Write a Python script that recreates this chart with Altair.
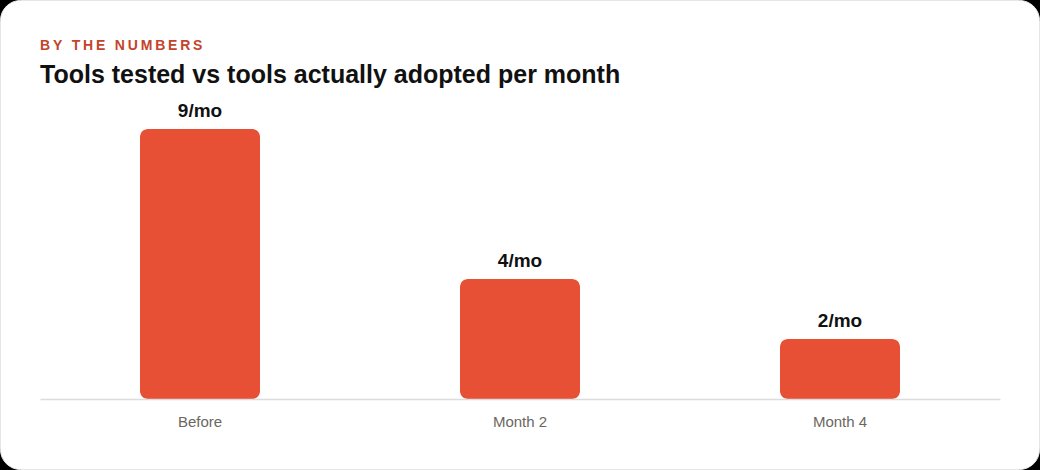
import altair as alt
import pandas as pd

categories = ["Before", "Month 2", "Month 4"]
values = [9, 4, 2]
labels = ["9/mo", "4/mo", "2/mo"]
kicker = "BY THE NUMBERS"
title = "Tools tested vs tools actually adopted per month"

FONT = "Liberation Sans"
TS = "\u2009"
kicker_spaced = TS.join(list(kicker))

df = pd.DataFrame({"cat": categories, "val": values, "lab": labels})
one = pd.DataFrame({"k": [kicker_spaced], "t": [title]})

xenc = alt.X("cat:N", sort=categories,
             scale=alt.Scale(paddingInner=0.625, paddingOuter=0.3125),
             axis=alt.Axis(title=None, labelAngle=0, ticks=False, domain=True,
                           domainColor="#dcdcdc", domainWidth=1.5, zindex=1,
                           labelColor="#6b6760", labelFont=FONT, labelFontSize=15,
                           labelPadding=15, grid=False))
yenc = alt.Y("val:Q", scale=alt.Scale(domain=[0, 10]), axis=None)

card = alt.Chart(one).mark_rect(fill="white", stroke="#e6e6e6", strokeWidth=1,
                                cornerRadius=20).encode(
    x=alt.value(-39.5), x2=alt.value(999.5), y=alt.value(-98.5), y2=alt.value(370.5))

bars = alt.Chart(df).mark_bar(color="#E85036", cornerRadius=8).encode(x=xenc, y=yenc)

text = alt.Chart(df).mark_text(font=FONT, fontSize=19, fontWeight="bold", color="#111111",
                               baseline="alphabetic", dy=-12).encode(
    x=alt.X("cat:N", sort=categories), y=yenc, text="lab:N")

kick = alt.Chart(one).mark_text(font=FONT, fontSize=14, fontWeight="bold", color="#C4432B",
                                align="left", baseline="alphabetic").encode(
    x=alt.value(0), y=alt.value(-49), text="k:N")

ttl = alt.Chart(one).mark_text(font=FONT, fontSize=25, fontWeight="bold", color="#111111",
                               align="left", baseline="alphabetic").encode(
    x=alt.value(0), y=alt.value(-16), text="t:N")

chart = alt.layer(card, bars, text, kick, ttl).properties(
    width=960, height=300,
    padding={"left": 40, "right": 40, "top": 99, "bottom": 71},
    autosize=alt.AutoSizeParams(type="none"),
    background="#000000",
).configure_view(stroke=None)

chart.save("out.html", embed_options={"renderer": "svg", "actions": False})
